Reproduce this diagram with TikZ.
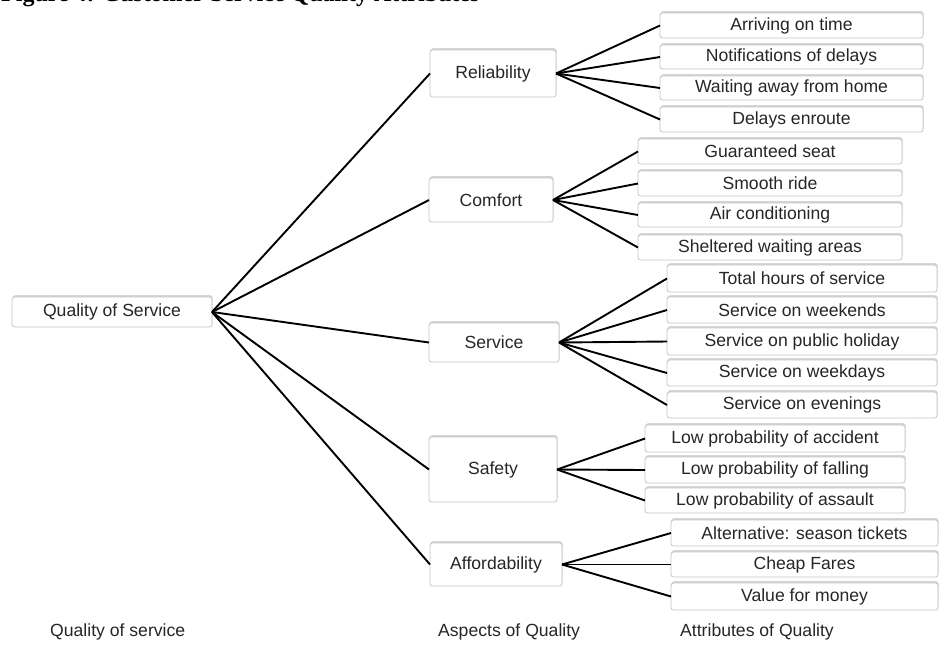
\documentclass[tikz,border=0pt]{standalone}
\usepackage{fontspec}
\setmainfont{Liberation Sans}
\newfontfamily\titlefont{Liberation Serif}
\usetikzlibrary{shadows}
\definecolor{txt}{HTML}{262626}
\definecolor{edge}{HTML}{C4C4C4}
\tikzset{
  box/.style={draw=edge, line width=0.8pt, fill=white, rounded corners=2.5pt,
    inner sep=0pt, outer sep=0pt, text=txt,
    font=\fontsize{17.6}{19}\selectfont,
    drop shadow={opacity=0.32, shadow xshift=0.6pt, shadow yshift=1.8pt}},
  link/.style={line width=1.9pt, black},
  caption/.style={anchor=west, inner sep=0pt, text=txt, font=\fontsize{17.6}{19}\selectfont}
}
\newcommand{\bx}[6]{\node[box, minimum width={(#4-#2)*1pt}, minimum height={(#5-#3)*1pt}] (#1) at ({(#2+#4)/2},{(#3+#5)/2}) {#6};}
\begin{document}
\begin{tikzpicture}[x=1pt,y=-1pt]
\useasboundingbox (0,0) rectangle (944,657);
\begin{scope}
\clip (0,0) rectangle (944,657);
\node[anchor=base west, inner sep=0pt, font=\titlefont\bfseries\fontsize{24}{26}\selectfont] (title) at (1,1.5) {Figure 4: Customer Service Quality Attributes};
\end{scope}
% root
\bx{qos}{12}{297}{212}{327}{Quality of Service}
% aspects
\bx{rel}{430}{50}{556}{97}{Reliability}
\bx{com}{429}{178}{553}{222}{Comfort}
\bx{ser}{429}{323}{559}{362}{Service}
\bx{saf}{429}{437}{557}{502}{Safety}
\bx{aff}{430}{543}{562}{586}{Affordability}
% reliability children
\bx{r1}{660}{13}{923}{38}{Arriving on time}
\bx{r2}{660}{45}{923}{69}{Notifications of delays}
\bx{r3}{660}{76}{923}{100}{Waiting away from home}
\bx{r4}{660}{107}{923}{132}{Delays enroute}
% comfort children
\bx{c1}{638}{139}{902}{164}{Guaranteed seat}
\bx{c2}{638}{171}{902}{196}{Smooth ride}
\bx{c3}{638}{203}{902}{227}{Air conditioning}
\bx{c4}{638}{235}{902}{260}{Sheltered waiting areas}
% service children
\bx{s1}{667}{265}{937}{292}{Total hours of service}
\bx{s2}{667}{297}{937}{323}{Service on weekends}
\bx{s3}{667}{328}{937}{355}{Service on public holiday}
\bx{s4}{667}{360}{937}{386}{Service on weekdays}
\bx{s5}{667}{392}{937}{418}{Service on evenings}
% safety children
\bx{f1}{645}{425}{905}{452}{Low probability of accident}
\bx{f2}{645}{457}{905}{483}{Low probability of falling}
\bx{f3}{645}{488}{905}{513}{Low probability of assault}
% affordability children
\bx{a1}{671}{520}{938}{546}{Alternative: season tickets}
\bx{a2}{671}{552}{938}{577}{Cheap Fares}
\bx{a3}{671}{583}{938}{610}{Value for money}
% connectors
\foreach \t in {rel,com,ser,saf,aff} \draw[link] (qos.east) -- (\t.west);
\foreach \t in {r1,r2,r3,r4} \draw[link] (rel.east) -- (\t.west);
\foreach \t in {c1,c2,c3,c4} \draw[link] (com.east) -- (\t.west);
\foreach \t in {s1,s2,s3,s4,s5} \draw[link] (ser.east) -- (\t.west);
\foreach \t in {f1,f2,f3} \draw[link] (saf.east) -- (\t.west);
\foreach \t in {a1,a2,a3} \draw[link] (aff.east) -- (\t.west);
% captions
\node[caption] (cap1) at (50,632) {Quality of service};
\node[caption] (cap2) at (438,632) {Aspects of Quality};
\node[caption] (cap3) at (680,632) {Attributes of Quality};
\end{tikzpicture}
\end{document}
